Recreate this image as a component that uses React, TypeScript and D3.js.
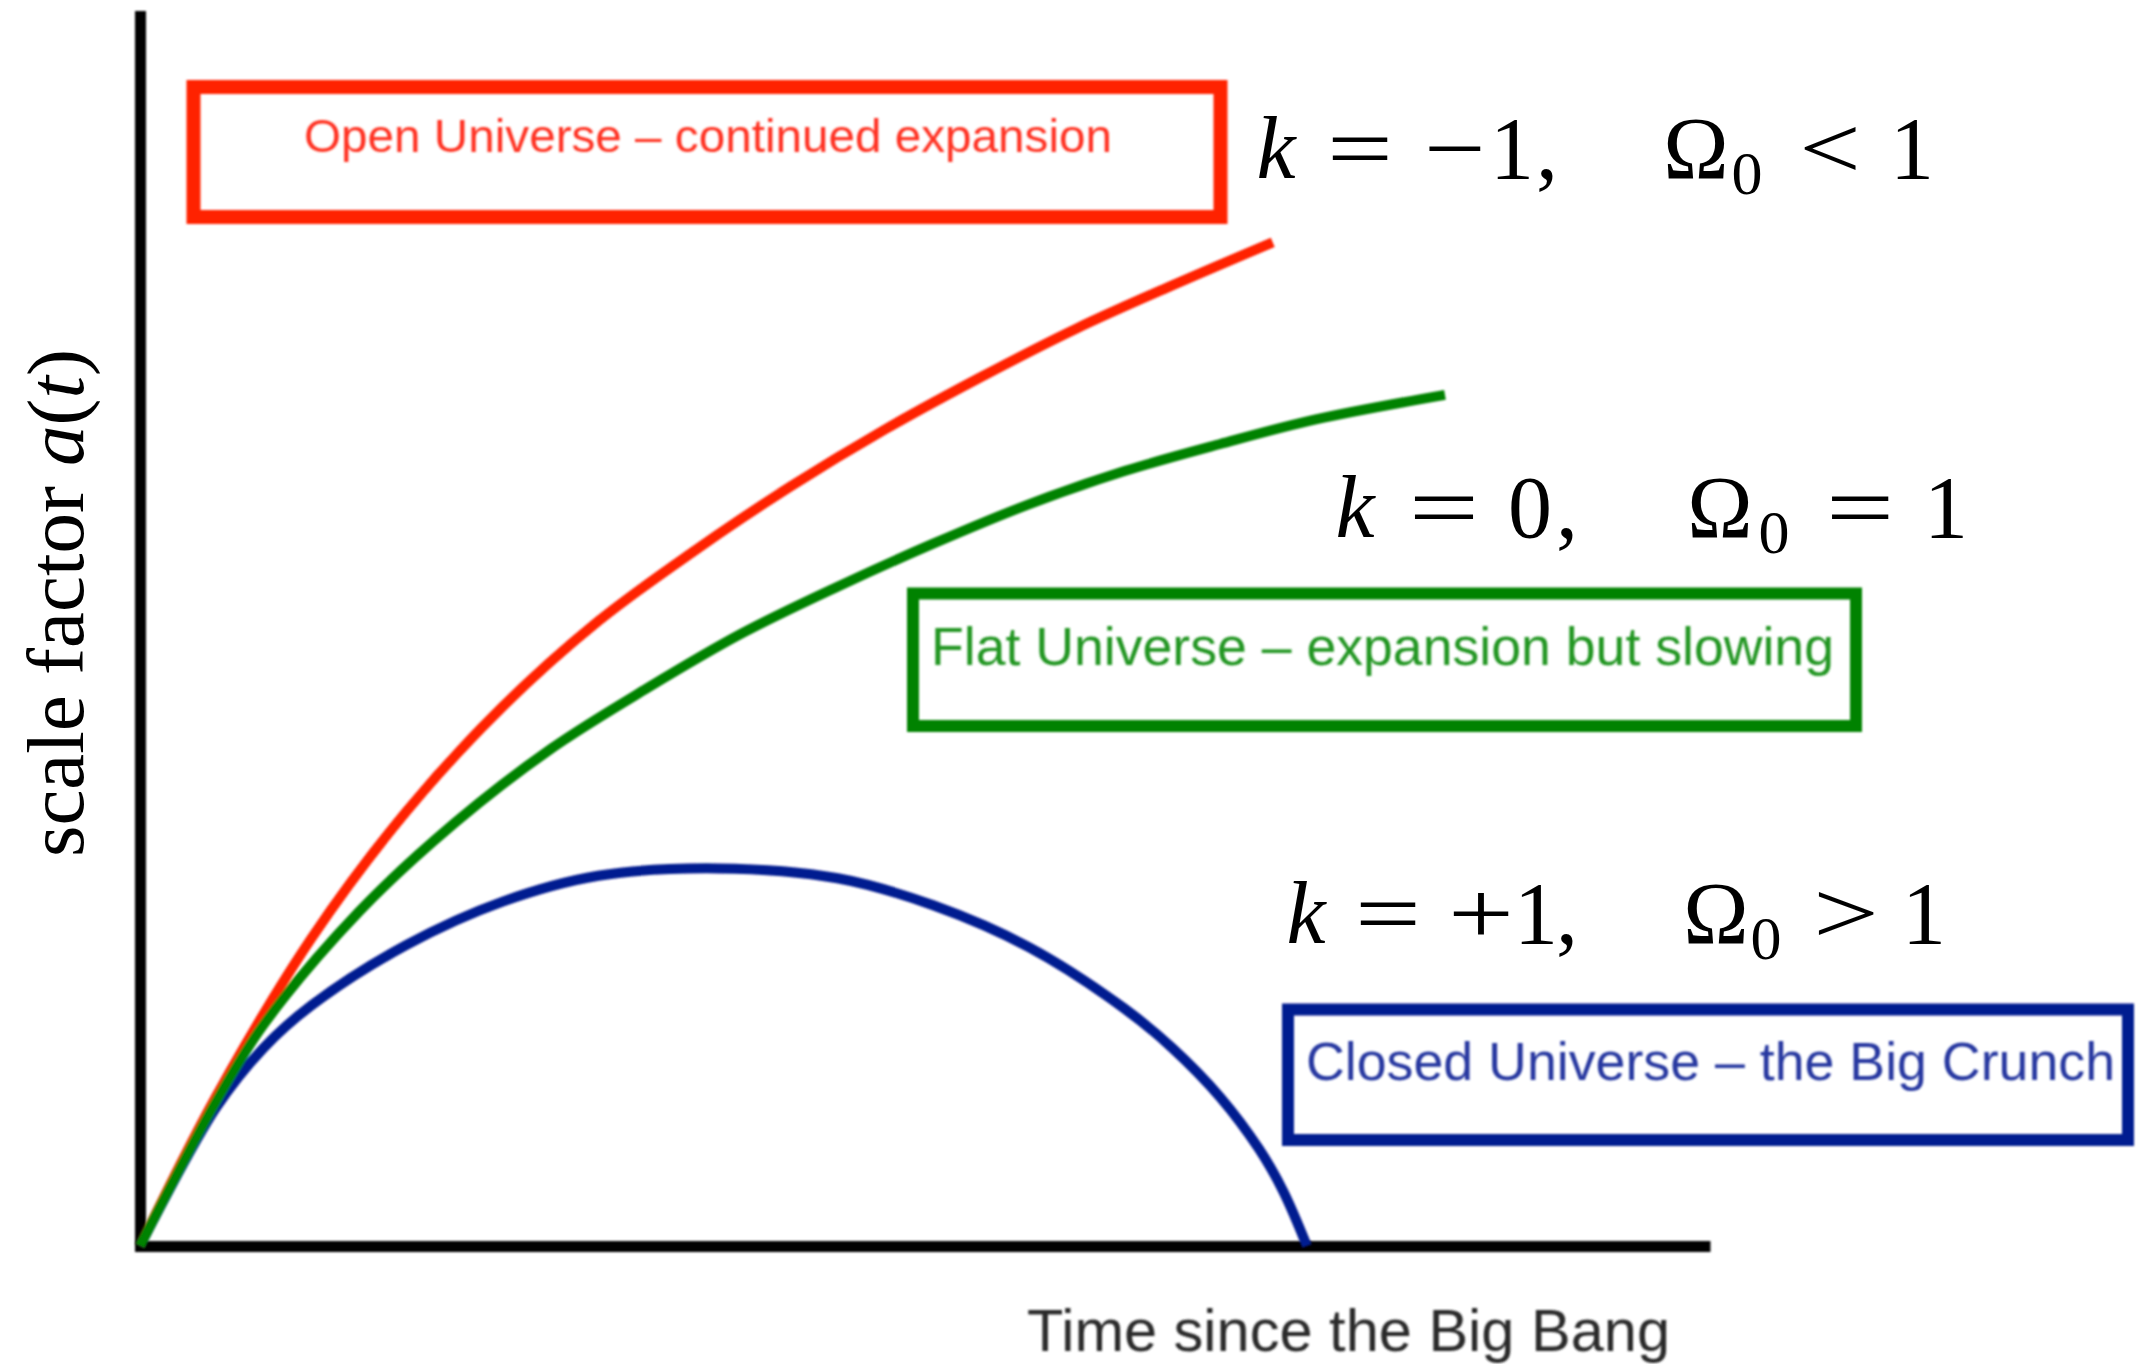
import React, { useEffect, useRef } from 'react';
import * as d3 from 'd3';

const W = 2138;
const H = 1364;

// Scale factor a(t) for the three Friedmann histories (arbitrary units of time and size)
const openTime = [0, 0.482, 1.091, 1.701, 2.31, 2.919, 3.529, 4.138, 4.747, 5.357, 5.966, 6.575, 7.215];
const openScale = [0, 1.21, 2.5, 3.54, 4.385, 5.08, 5.65, 6.17, 6.64, 7.065, 7.46, 7.81, 8.16];

const flatTime = [0, 0.482, 0.787, 1.396, 2.005, 2.615, 3.224, 3.833, 4.443, 5.052, 5.661, 6.271, 6.88, 7.489, 8.312];
const flatScale = [0, 1.17, 1.8, 2.72, 3.44, 4.04, 4.53, 4.98, 5.36, 5.71, 6.03, 6.3, 6.52, 6.72, 6.92];

const closedTime = [0, 0.482, 0.787, 1.091, 1.701, 2.31, 2.919, 3.681, 4.443, 5.052, 5.661, 6.271, 6.575, 6.88, 7.127, 7.28, 7.433];
const closedScale = [0, 1.12, 1.61, 1.955, 2.45, 2.8, 3.01, 3.07, 2.99, 2.77, 2.43, 1.93, 1.61, 1.21, 0.79, 0.45, 0];

const seriesNames = ['open', 'closed', 'flat'];
const boxLabels = [
  'Open Universe – continued expansion',
  'Flat Universe – expansion but slowing',
  'Closed Universe – the Big Crunch',
];
const xAxisTitle = 'Time since the Big Bang';

type Piece = { s: string; cx: number; kind?: 'it' | 'op' | 'sub'; w?: number };

export default function App() {
  const xAxisRef = useRef<SVGGElement>(null);
  const yAxisRef = useRef<SVGGElement>(null);

  const x = d3.scaleLinear().domain([0, 10]).range([140, 1710]);
  const y = d3.scaleLinear().domain([0, 10]).range([1246, 16]);

  const colors: Record<string, string> = {
    open: '#ff2200',
    flat: '#008200',
    closed: '#001a90',
  };
  const textColors: Record<string, string> = {
    open: '#ff3322',
    flat: '#239623',
    closed: '#2638a0',
  };

  const series: Record<string, [number, number][]> = {
    open: openTime.map((t, i) => [t, openScale[i]]),
    flat: flatTime.map((t, i) => [t, flatScale[i]]),
    closed: closedTime.map((t, i) => [t, closedScale[i]]),
  };

  const line = d3
    .line<[number, number]>()
    .x((d) => x(d[0]))
    .y((d) => y(d[1]))
    .curve(d3.curveCatmullRom.alpha(0.5));

  useEffect(() => {
    document.body.style.margin = '0';
    const gx = d3.select(xAxisRef.current!);
    gx.call(d3.axisBottom(x).tickValues([]).tickSizeOuter(0));
    gx.select('.domain').attr('stroke', '#000').attr('stroke-width', 11);
    const gy = d3.select(yAxisRef.current!);
    gy.call(d3.axisLeft(y).tickValues([]).tickSizeOuter(0));
    gy.select('.domain').attr('stroke', '#000').attr('stroke-width', 11).attr('stroke-linecap', 'square');
  }, []);

  // annotation boxes: rect = [x, y, width, height]
  const boxes = [
    { key: 'open', rect: [193.5, 87, 1027, 130], sw: 14, tx: 304, ty: 152, tl: 808, fs: 47 },
    { key: 'flat', rect: [913, 593.5, 943, 132.5], sw: 12, tx: 931, ty: 665, tl: 903, fs: 53 },
    { key: 'closed', rect: [1288, 1009.5, 840, 130.5], sw: 12, tx: 1306, ty: 1080, tl: 809, fs: 53 },
  ];

  const mathLabels: { base: number; pieces: Piece[] }[] = [
    {
      base: 178,
      pieces: [
        { s: 'k', cx: 1276, kind: 'it' },
        { s: '=', cx: 1360, kind: 'op', w: 60 },
        { s: '−', cx: 1455, kind: 'op', w: 56 },
        { s: '1', cx: 1512 },
        { s: ',', cx: 1547 },
        { s: 'Ω', cx: 1696 },
        { s: '0', cx: 1747, kind: 'sub' },
        { s: '<', cx: 1830, kind: 'op', w: 56 },
        { s: '1', cx: 1912 },
      ],
    },
    {
      base: 537,
      pieces: [
        { s: 'k', cx: 1355, kind: 'it' },
        { s: '=', cx: 1444, kind: 'op', w: 64 },
        { s: '0', cx: 1530 },
        { s: ',', cx: 1567 },
        { s: 'Ω', cx: 1720 },
        { s: '0', cx: 1774, kind: 'sub' },
        { s: '=', cx: 1860, kind: 'op', w: 62 },
        { s: '1', cx: 1946 },
      ],
    },
    {
      base: 943,
      pieces: [
        { s: 'k', cx: 1306, kind: 'it' },
        { s: '=', cx: 1388, kind: 'op', w: 60 },
        { s: '+', cx: 1481, kind: 'op', w: 60 },
        { s: '1', cx: 1536 },
        { s: ',', cx: 1567 },
        { s: 'Ω', cx: 1716 },
        { s: '0', cx: 1766, kind: 'sub' },
        { s: '>', cx: 1846, kind: 'op', w: 60 },
        { s: '1', cx: 1924 },
      ],
    },
  ];

  return (
    <svg
      width={W}
      height={H}
      viewBox={`0 0 ${W} ${H}`}
      style={{ position: 'absolute', left: 0, top: 0, background: '#fff' }}
    >
      <defs>
        <filter id="soft" filterUnits="userSpaceOnUse" x="0" y="0" width={W} height={H}>
          <feGaussianBlur stdDeviation="0.9" />
        </filter>
        <filter id="softText" filterUnits="userSpaceOnUse" x="0" y="0" width={W} height={H}>
          <feGaussianBlur stdDeviation="1.3" />
        </filter>
      </defs>
      <rect width={W} height={H} fill="#fff" />

      <g filter="url(#soft)">
        <g ref={xAxisRef} transform={`translate(0,${y(0)})`} />
        <g ref={yAxisRef} transform={`translate(${x(0)},0)`} />
      </g>

      <g filter="url(#soft)" fill="none" strokeLinecap="butt" strokeLinejoin="round">
        {seriesNames.map((k) => (
          <path key={k} d={line(series[k]) || ''} stroke={colors[k]} strokeWidth={10} />
        ))}
      </g>

      {boxes.map((b, i) => (
        <g key={b.key}>
          <rect
            x={b.rect[0]}
            y={b.rect[1]}
            width={b.rect[2]}
            height={b.rect[3]}
            fill="none"
            stroke={colors[b.key]}
            strokeWidth={b.sw}
            filter="url(#soft)"
          />
          <text
            x={b.tx}
            y={b.ty}
            fontFamily="'Liberation Sans', Arial, sans-serif"
            fontSize={b.fs}
            fill={textColors[b.key]}
            textLength={b.tl}
            lengthAdjust="spacingAndGlyphs"
            filter="url(#softText)"
          >
            {boxLabels[i]}
          </text>
        </g>
      ))}

      {mathLabels.map((lab, li) => (
        <g key={li} fontFamily="'Liberation Serif', 'Times New Roman', serif" fill="#000">
          {lab.pieces.map((p, pi) => (
            <text
              key={pi}
              x={p.cx}
              y={p.kind === 'sub' ? lab.base + 16 : lab.base}
              textAnchor="middle"
              fontSize={p.kind === 'sub' ? 62 : 88}
              fontStyle={p.kind === 'it' ? 'italic' : 'normal'}
              textLength={p.kind === 'op' ? (p.w as number) * 1.1 : undefined}
              lengthAdjust={p.kind === 'op' ? 'spacingAndGlyphs' : undefined}
            >
              {p.s}
            </text>
          ))}
        </g>
      ))}

      <text
        transform="translate(83,603) rotate(-90)"
        textAnchor="middle"
        fontFamily="'Liberation Serif', 'Times New Roman', serif"
        fontSize={81}
        fill="#000"
      >
        scale factor <tspan fontStyle="italic">a</tspan>(<tspan fontStyle="italic">t</tspan>)
      </text>

      <text
        x={1027}
        y={1351}
        fontFamily="'Liberation Sans', Arial, sans-serif"
        fontSize={60}
        fill="#2a2a2a"
        textLength={643}
        lengthAdjust="spacingAndGlyphs"
        filter="url(#softText)"
      >
        {xAxisTitle}
      </text>
    </svg>
  );
}
